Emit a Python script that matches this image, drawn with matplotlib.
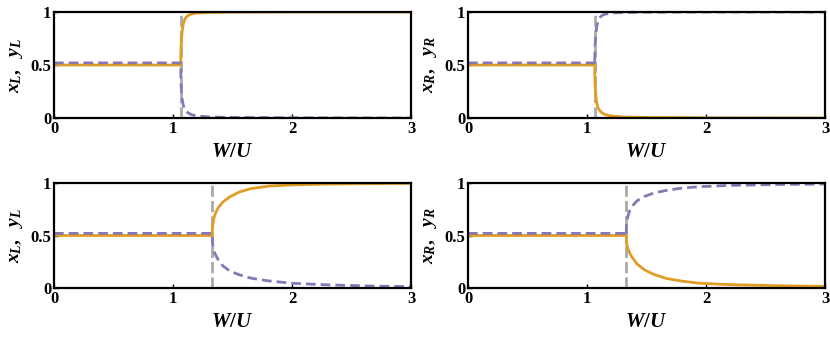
import numpy as np
import matplotlib
matplotlib.use("Agg")
import matplotlib.pyplot as plt

plt.rcParams['mathtext.fontset'] = 'custom'
plt.rcParams['mathtext.it'] = 'Liberation Serif:italic:bold'
plt.rcParams['mathtext.rm'] = 'Liberation Serif:bold'
plt.rcParams['mathtext.bf'] = 'Liberation Serif:bold'

# values (W/U, value)
wc_top = 1.065
wc_bot = 1.33

# top row: after the transition
top_w = [1.065, 1.066, 1.068, 1.072, 1.078, 1.085, 1.095, 1.11, 1.13, 1.16, 1.2, 1.3, 1.5, 2.0, 3.0]
top_up = [0.5, 0.6, 0.68, 0.76, 0.83, 0.88, 0.92, 0.95, 0.97, 0.982, 0.99, 0.995, 0.998, 1.0, 1.0]
top_dn = [0.5, 0.4, 0.32, 0.24, 0.17, 0.125, 0.09, 0.065, 0.045, 0.03, 0.02, 0.01, 0.005, 0.002, 0.0]

# bottom-left
bl_w = [1.33, 1.331, 1.335, 1.345, 1.36, 1.38, 1.42, 1.48, 1.56, 1.65, 1.8, 2.0, 2.3, 2.7, 3.0]
bl_x = [0.5, 0.56, 0.61, 0.67, 0.72, 0.765, 0.82, 0.87, 0.915, 0.945, 0.97, 0.982, 0.99, 0.994, 0.996]
bl_y = [0.5, 0.45, 0.40, 0.35, 0.31, 0.27, 0.21, 0.16, 0.125, 0.095, 0.068, 0.045, 0.03, 0.018, 0.013]

# bottom-right
br_w = [1.33, 1.331, 1.335, 1.345, 1.36, 1.38, 1.42, 1.48, 1.56, 1.67, 1.8, 1.95, 2.2, 2.6, 3.0]
br_x = [0.5, 0.45, 0.41, 0.37, 0.33, 0.29, 0.23, 0.175, 0.13, 0.09, 0.065, 0.045, 0.032, 0.022, 0.015]
br_y = [0.5, 0.58, 0.63, 0.69, 0.74, 0.78, 0.83, 0.87, 0.905, 0.93, 0.952, 0.965, 0.977, 0.986, 0.99]

x_flat = 0.5
y_flat = 0.52

panels = [
    (wc_top, top_w, top_up, top_dn, r'$x_L,\ \ y_L$'),
    (wc_top, top_w, top_dn, top_up, r'$x_R,\ \ y_R$'),
    (wc_bot, bl_w, bl_x, bl_y, r'$x_L,\ \ y_L$'),
    (wc_bot, br_w, br_x, br_y, r'$x_R,\ \ y_R$'),
]

orange = '#E19C24'
purple = '#8778B3'
gray = '#AAAAAA'

fig = plt.figure(figsize=(8.3, 3.43), dpi=100)
rects = [
    [54/830, 1-118/343, 357/830, 106/343],
    [468/830, 1-118/343, 357/830, 106/343],
    [54/830, 1-288/343, 357/830, 105/343],
    [468/830, 1-288/343, 357/830, 105/343],
]

for rect, (wc, w, xs, ys, lab) in zip(rects, panels):
    ax = fig.add_axes(rect)
    ax.plot([wc, wc], [0, 1], color=gray, lw=2.0, dashes=(4, 1.5))
    ax.plot([0] + w, [x_flat] + xs, color=orange, lw=2.0)
    ax.plot([0, wc] + w, [y_flat, y_flat] + ys, color=purple, lw=2.0, dashes=(3.5, 1.8))
    ax.set_xlim(0, 3)
    ax.set_ylim(0, 1)
    ax.set_xticks([0, 1, 2, 3])
    ax.set_xticklabels(['0', '1', '2', '3'])
    ax.set_yticks([0, 0.5, 1])
    ax.set_yticklabels(['0', '0.5', '1'])
    ax.tick_params(direction='in', length=3, width=1, pad=2)
    for t in ax.get_xticklabels() + ax.get_yticklabels():
        t.set_fontfamily('Liberation Serif')
        t.set_fontweight('bold')
        t.set_fontsize(12)
    for s in ax.spines.values():
        s.set_linewidth(1.6)
    ax.set_xlabel(r'$W/U$', fontsize=15, labelpad=3)
    ax.set_ylabel(lab, fontsize=14, labelpad=4)

fig.savefig('out.png', dpi=100)
